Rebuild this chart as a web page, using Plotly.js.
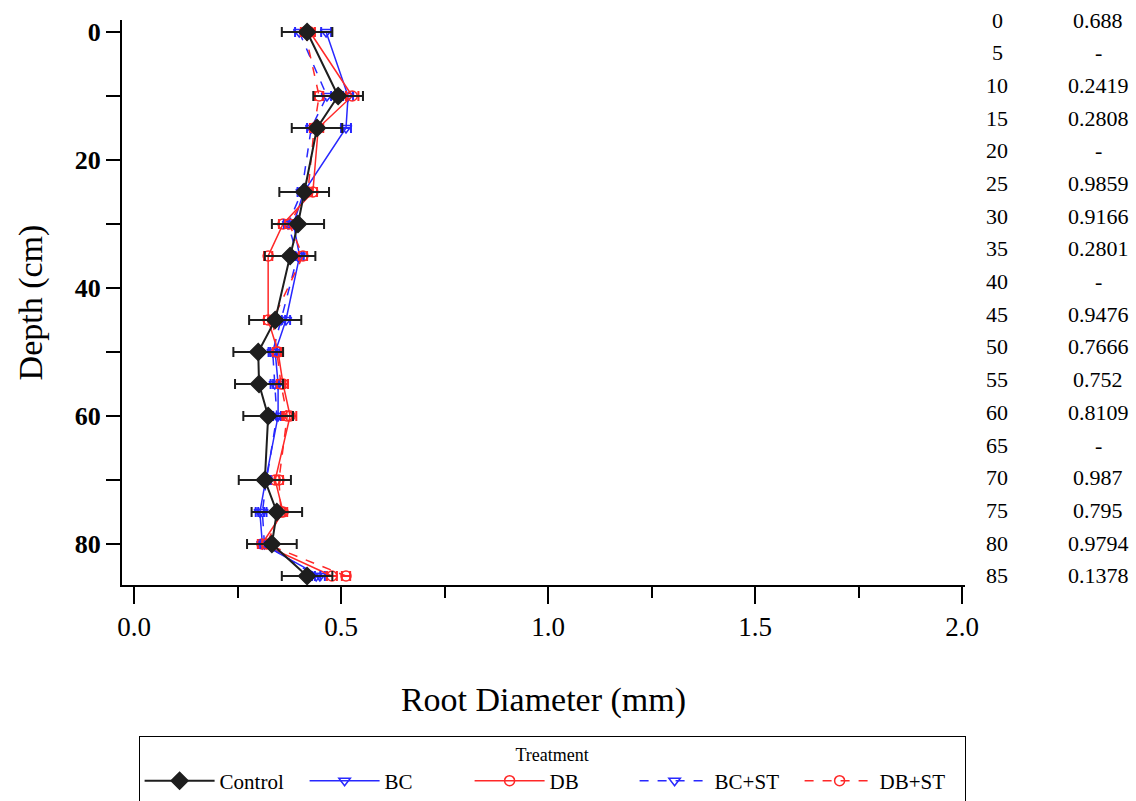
<!DOCTYPE html>
<html>
<head>
<meta charset="utf-8">
<script src="https://cdn.plot.ly/plotly-3.0.1.min.js"></script>
<style>body{margin:0;background:#fff;}#chart{width:1136px;height:801px;}</style>
</head>
<body>
<div id="chart"></div>
<script>
// Depth (cm) of measured layers
const depths = [0, 10, 15, 25, 30, 35, 45, 50, 55, 60, 70, 75, 80, 85];

// Root diameter (mm) per treatment
const control = [0.418, 0.493, 0.442, 0.411, 0.396, 0.377, 0.341, 0.300, 0.302, 0.324, 0.316, 0.345, 0.333, 0.418];
const controlErr = [0.061, 0.060, 0.061, 0.060, 0.063, 0.061, 0.063, 0.060, 0.058, 0.060, 0.063, 0.061, 0.060, 0.061];
const bc = [0.464, 0.517, 0.512, 0.410, 0.385, 0.400, 0.367, 0.341, 0.348, 0.348, 0.318, 0.304, 0.310, 0.449];
const bcErr = [0.012, 0.012, 0.012, 0.010, 0.010, 0.010, 0.010, 0.012, 0.012, 0.012, 0.010, 0.010, 0.010, 0.012];
const db = [0.425, 0.527, 0.445, 0.432, 0.360, 0.324, 0.324, 0.348, 0.360, 0.377, 0.341, 0.360, 0.309, 0.478];
const dbErr = [0.012, 0.015, 0.012, 0.010, 0.010, 0.010, 0.010, 0.012, 0.012, 0.015, 0.010, 0.010, 0.010, 0.012];
const bcst = [0.399, 0.466, 0.428, 0.405, 0.372, 0.395, 0.355, 0.335, 0.340, 0.345, 0.320, 0.310, 0.315, 0.440];
const bcstErr = [0.010, 0.010, 0.010, 0.010, 0.010, 0.010, 0.010, 0.010, 0.010, 0.010, 0.010, 0.010, 0.010, 0.010];
const dbst = [0.413, 0.447, 0.435, 0.420, 0.375, 0.408, 0.335, 0.345, 0.355, 0.370, 0.350, 0.355, 0.320, 0.512];
const dbstErr = [0.010, 0.010, 0.010, 0.010, 0.010, 0.010, 0.010, 0.010, 0.010, 0.012, 0.010, 0.010, 0.010, 0.010];

// Right-hand p-value column
const pDepths = [0, 5, 10, 15, 20, 25, 30, 35, 40, 45, 50, 55, 60, 65, 70, 75, 80, 85];
const pValues = ["0.688", "-", "0.2419", "0.2808", "-", "0.9859", "0.9166", "0.2801", "-", "0.9476", "0.7666", "0.752", "0.8109", "-", "0.987", "0.795", "0.9794", "0.1378"];

// Tick labels
const yTickVals = [0, 10, 20, 30, 40, 50, 60, 70, 80];
const yTickText = ["0", "", "20", "", "40", "", "60", "", "80"];
const xTickVals = [0, 0.5, 1.0, 1.5, 2.0];
const xTickText = ["0.0", "0.5", "1.0", "1.5", "2.0"];

const BLUE = "rgb(40,40,255)";
const RED = "rgb(255,40,40)";
const SERIF = "Liberation Serif, Times New Roman, serif";

function tr(name, xs, errs, color, symbol, dash, size, rank, lw) {
  return {
    type: "scatter", mode: "lines+markers", name: name,
    x: xs, y: depths,
    error_x: {type: "data", array: errs, visible: true, color: color, thickness: 2, width: 5},
    line: {color: color, width: lw, dash: dash},
    marker: {symbol: symbol, size: size, color: color, line: {color: color, width: 1.5}},
    legendrank: rank
  };
}

const traces = [
  tr("BC", bc, bcErr, BLUE, "triangle-down-open", "solid", 10, 2, 1.5),
  tr("DB", db, dbErr, RED, "circle-open", "solid", 10, 3, 1.5),
  tr("BC+ST", bcst, bcstErr, BLUE, "triangle-down-open", "dash", 10, 4, 1.5),
  tr("DB+ST", dbst, dbstErr, RED, "circle-open", "dash", 10, 5, 1.5),
  tr("Control", control, controlErr, "rgb(30,30,30)", "diamond", "solid", 13, 1, 2)
];

const annotations = [];
pDepths.forEach((d, i) => {
  annotations.push({xref: "paper", yref: "y2", x: 1.038, y: d, text: String(d), showarrow: false,
    font: {family: SERIF, size: 22, color: "#000"}, xanchor: "center", yanchor: "middle"});
  annotations.push({xref: "paper", yref: "y2", x: 1.158, y: d, text: pValues[i], showarrow: false,
    font: {family: SERIF, size: 22, color: "#000"}, xanchor: "center", yanchor: "middle"});
});

const layout = {
  width: 1136, height: 801,
  margin: {l: 122, r: 171, t: 20, b: 216},
  paper_bgcolor: "#fff", plot_bgcolor: "#fff",
  showlegend: true,
  font: {family: SERIF, color: "#000"},
  xaxis: {
    range: [-0.029, 2.007], showgrid: false, zeroline: false,
    showline: true, linecolor: "#000", linewidth: 2,
    tickmode: "array", tickvals: xTickVals, ticktext: xTickText,
    ticks: "outside", ticklen: 17, tickwidth: 2, tickcolor: "#000",
    minor: {dtick: 0.25, tick0: 0, ticks: "outside", ticklen: 11, tickwidth: 2, tickcolor: "#000", showgrid: false},
    tickfont: {family: SERIF, size: 27, color: "#000"},
    title: {text: "Root Diameter (mm)", font: {family: SERIF, size: 34, color: "#000"}, standoff: 46},
    automargin: false
  },
  yaxis: {
    range: [86.4, -1.875], showgrid: false, zeroline: false,
    showline: true, linecolor: "#000", linewidth: 2,
    tickmode: "array", tickvals: yTickVals, ticktext: yTickText,
    ticks: "outside", ticklen: 14, tickwidth: 2, tickcolor: "#000",
    tickfont: {family: SERIF, size: 26, color: "#000", weight: "bold"},
    title: {text: "Depth (cm)", font: {family: SERIF, size: 34, color: "#000"}, standoff: 22},
    automargin: false
  },
  yaxis2: {overlaying: "y", range: [86.4, 0], visible: false, showgrid: false, zeroline: false},
  legend: {
    orientation: "h", xref: "container", yref: "container",
    x: 0.486, xanchor: "center", y: 0.081, yanchor: "top",
    bgcolor: "#fff", bordercolor: "#000", borderwidth: 1,
    font: {family: SERIF, size: 21, color: "#000"},
    title: {text: "Treatment", side: "top center", font: {family: SERIF, size: 18, color: "#000"}},
    itemwidth: 70, entrywidth: 80, entrywidthmode: "pixels",
    tracegroupgap: 0
  },
  annotations: annotations
};

Plotly.newPlot("chart", traces, layout, {displayModeBar: false, staticPlot: true});
</script>
</body>
</html>
